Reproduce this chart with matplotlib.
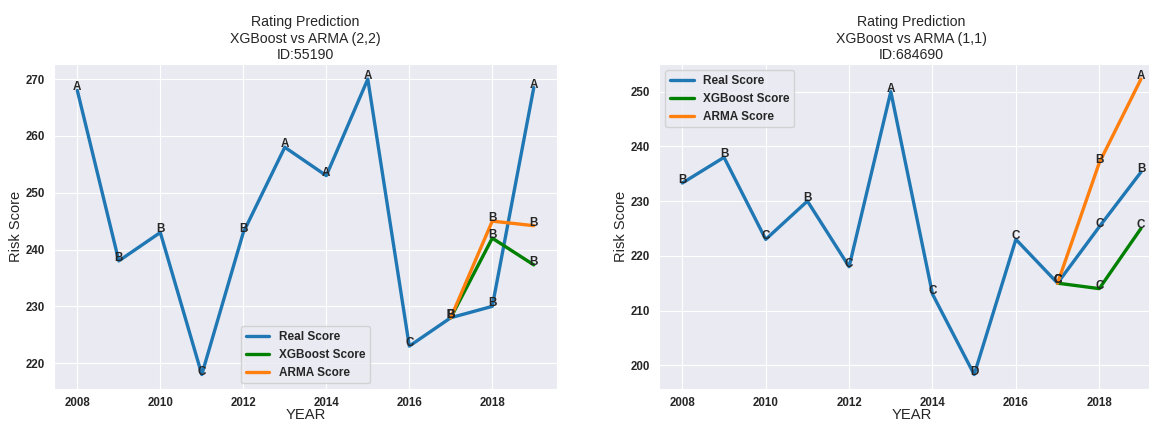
import matplotlib
matplotlib.use("Agg")
import matplotlib.pyplot as plt
import seaborn as sns

years = [2008, 2009, 2010, 2011, 2012, 2013, 2014, 2015, 2016, 2017, 2018, 2019]
pred_years = [2017, 2018, 2019]

# left chart: ID 55190, ARMA (2,2)
real_a = [268, 238, 243, 218, 243, 258, 253, 270, 223, 228, 230, 268.5]
real_a_lbl = ["A", "B", "B", "C", "B", "A", "A", "A", "C", "B", "B", "A"]
xgb_a = [228, 242, 237.3]
xgb_a_lbl = ["B", "B", "B"]
arma_a = [228, 245, 244.2]
arma_a_lbl = ["B", "B", "B"]

# right chart: ID 684690, ARMA (1,1)
real_b = [233.3, 238, 223, 230, 218, 250, 213, 198.3, 223, 215, 225.3, 235.3]
real_b_lbl = ["B", "B", "C", "B", "C", "A", "C", "D", "C", "C", "C", "B"]
xgb_b = [215, 214, 225]
xgb_b_lbl = ["C", "C", "C"]
arma_b = [215, 237, 252.3]
arma_b_lbl = ["C", "B", "A"]

sns.set_style("darkgrid")
plt.rcParams["font.family"] = ["Liberation Sans", "DejaVu Sans"]
text_col = "#262626"

fig = plt.figure(figsize=(11.49, 4.21), dpi=100)
ax1 = fig.add_axes([0.04743, 0.0753, 0.43699, 0.77197])
ax2 = fig.add_axes([0.57389, 0.0753, 0.43908, 0.77197])


def draw(ax, real, real_lbl, xgb, xgb_lbl, arma, arma_lbl, title, legend_loc):
    ax.plot(years, real, color="#1f77b4", lw=2.4, label="Real Score")
    ax.plot(pred_years, xgb, color="green", lw=2.4, label="XGBoost Score")
    ax.plot(pred_years, arma, color="#ff7f0e", lw=2.4, label="ARMA Score")
    for xs, ys, ls in [(years, real, real_lbl), (pred_years, xgb, xgb_lbl),
                       (pred_years, arma, arma_lbl)]:
        for x, y, s in zip(xs, ys, ls):
            ax.text(x, y, s, ha="center", va="baseline", fontsize=8.4,
                    fontweight="bold", color=text_col)
    ax.set_title(title, fontsize=10.2, color=text_col, pad=4)
    ax.set_xlabel("YEAR", fontsize=10.6, color=text_col, labelpad=-1)
    ax.set_ylabel("Risk Score", fontsize=10.5, color=text_col, labelpad=1.5)
    ax.tick_params(labelsize=8.3)
    ax.tick_params(axis="x", pad=2)
    for t in ax.get_xticklabels() + ax.get_yticklabels():
        t.set_fontweight("bold")
    ax.legend(loc=legend_loc, prop={"weight": "bold", "size": 8.5})


draw(ax1, real_a, real_a_lbl, xgb_a, xgb_a_lbl, arma_a, arma_a_lbl,
     "Rating Prediction\nXGBoost vs ARMA (2,2)\nID:55190", "lower center")
draw(ax2, real_b, real_b_lbl, xgb_b, xgb_b_lbl, arma_b, arma_b_lbl,
     "Rating Prediction\nXGBoost vs ARMA (1,1)\nID:684690", "upper left")

ax1.set_xticks([2008, 2010, 2012, 2014, 2016, 2018])
ax2.set_xticks([2008, 2010, 2012, 2014, 2016, 2018])

fig.savefig("out.png", dpi=100)
